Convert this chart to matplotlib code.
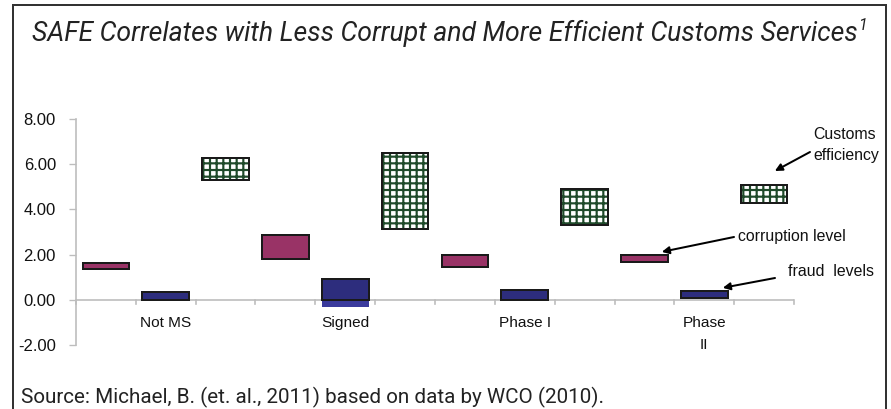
import matplotlib
matplotlib.use("Agg")
import matplotlib.pyplot as plt
from matplotlib.patches import Rectangle
import numpy as np

# Groups and the three measures shown for each
groups = ["Not MS", "Signed", "Phase I", "Phase\nII"]
corruption_low = [1.35, 1.81, 1.45, 1.68]
corruption_high = [1.65, 2.88, 1.98, 1.98]
fraud_low = [0.00, -0.32, 0.00, 0.07]
fraud_high = [0.35, 0.92, 0.43, 0.37]
efficiency_low = [5.28, 3.13, 3.29, 4.28]
efficiency_high = [6.27, 6.49, 4.90, 5.06]
yticks = [-2, 0, 2, 4, 6, 8]

DPI = 120
W, H = 891, 409
plt.rcParams["hatch.linewidth"] = 1.3

fig = plt.figure(figsize=(W / DPI, H / DPI), dpi=DPI)
fig.patch.set_facecolor("white")


def px(x, y):
    return (x / W, 1 - y / H)


# outer frame around the whole panel
fig.add_artist(Rectangle((13 / W, -0.2), (886 - 13) / W, 1.2 - 5 / H,
                         transform=fig.transFigure, fill=False,
                         edgecolor="#333333", linewidth=1.2, clip_on=False))

title = fig.text(*px(32, 41),
                 "SAFE Correlates with Less Corrupt and More Efficient Customs Services",
                 fontsize=16, style="italic", family="Roboto", color="#222222",
                 ha="left", va="baseline")
renderer = fig.canvas.get_renderer()
tb = title.get_window_extent(renderer)
fig.text((tb.x1 + 0.5) / W, 1 - 30 / H, "1", fontsize=9.5, style="italic",
         family="Roboto", color="#222222", ha="left", va="baseline")

fig.text(*px(21, 403),
         "Source: Michael, B. (et. al., 2011) based on data by WCO (2010).",
         fontsize=12.4, family="Roboto", color="#222222", ha="left", va="baseline")

ax = fig.add_axes([76 / W, 1 - 345 / H, (794 - 76) / W, (345 - 119) / H])
ax.set_xlim(-0.5, 11.5)
ax.set_ylim(-2, 8)

n = len(groups)
base = np.arange(n) * 3
bw = 0.78
c_low, c_high = np.array(corruption_low), np.array(corruption_high)
f_low, f_high = np.array(fraud_low), np.array(fraud_high)
e_low, e_high = np.array(efficiency_low), np.array(efficiency_high)

ax.axhline(0, color="#bdbdbd", linewidth=1.0, zorder=1)

# corruption level
ax.bar(base, c_high - c_low, bottom=c_low, width=bw, color="#993366",
       edgecolor="#1a1a1a", linewidth=1.2, zorder=3)

# fraud levels: portion below zero sits behind the axis, unframed
f_top = np.maximum(f_low, 0)
ax.bar(base + 1, np.where(f_low < 0, np.minimum(f_high, 0) - f_low, 0), bottom=f_low,
       width=bw, color="#3a3a9c", linewidth=0, zorder=2)
ax.bar(base + 1, f_high - f_top, bottom=f_top, width=bw, color="#2d2d7d",
       edgecolor="#1a1a1a", linewidth=1.2, zorder=3)

# customs efficiency: green grid hatch with black frame
ax.bar(base + 2, e_high - e_low, bottom=e_low, width=bw, facecolor="white",
       edgecolor="#1f4a2a", hatch="+++", linewidth=0, zorder=3)
ax.bar(base + 2, e_high - e_low, bottom=e_low, width=bw, fill=False,
       edgecolor="#1a1a1a", linewidth=1.2, zorder=4)

# axes styling
for s in ["top", "right", "bottom"]:
    ax.spines[s].set_visible(False)
ax.spines["left"].set_color("#bdbdbd")
ax.spines["left"].set_linewidth(1.0)
ax.set_yticks(yticks)
ax.set_yticklabels([f"{v:.2f}" for v in yticks], family="Liberation Sans",
                   fontsize=10, color="#111111")
ax.tick_params(axis="y", length=4, color="#bdbdbd", pad=8)
ax.set_xticks([])

# slot boundary ticks on the zero line
for xb in np.arange(-0.5, 12, 1.0):
    ax.plot([xb, xb], [0, -0.18], color="#bdbdbd", linewidth=1.0, zorder=1,
            clip_on=False)

for i, g in enumerate(groups):
    ax.annotate(g, xy=(base[i] + 1, 0), xytext=(0, -10), textcoords="offset points",
                ha="center", va="top", family="Liberation Sans", fontsize=9.2,
                color="#111111", linespacing=1.7)

# series callouts
arrow = dict(arrowstyle="-|>", color="black", lw=1.2, mutation_scale=9,
             shrinkA=0, shrinkB=0)
ax.annotate("", xy=(base[3] + 2.18, e_high[3] + 0.64), xycoords="data",
            xytext=px(810, 152), textcoords="figure fraction", arrowprops=arrow)
ax.annotate("", xy=(base[3] + 0.29, c_high[3] + 0.14), xycoords="data",
            xytext=px(734, 237), textcoords="figure fraction", arrowprops=arrow)
ax.annotate("", xy=(base[3] + 1.31, f_high[3] + 0.16), xycoords="data",
            xytext=px(775, 278), textcoords="figure fraction", arrowprops=arrow)

fig.text(*px(813, 145), "Customs\nefficiency", family="Liberation Sans",
         fontsize=9.5, ha="left", va="center", linespacing=1.45, color="#111111")
fig.text(*px(738, 237), "corruption level", family="Liberation Sans",
         fontsize=9.5, ha="left", va="center", color="#111111")
fig.text(*px(788, 272), "fraud  levels", family="Liberation Sans",
         fontsize=9.5, ha="left", va="center", color="#111111")

fig.savefig("out.png", dpi=DPI, facecolor="white")
